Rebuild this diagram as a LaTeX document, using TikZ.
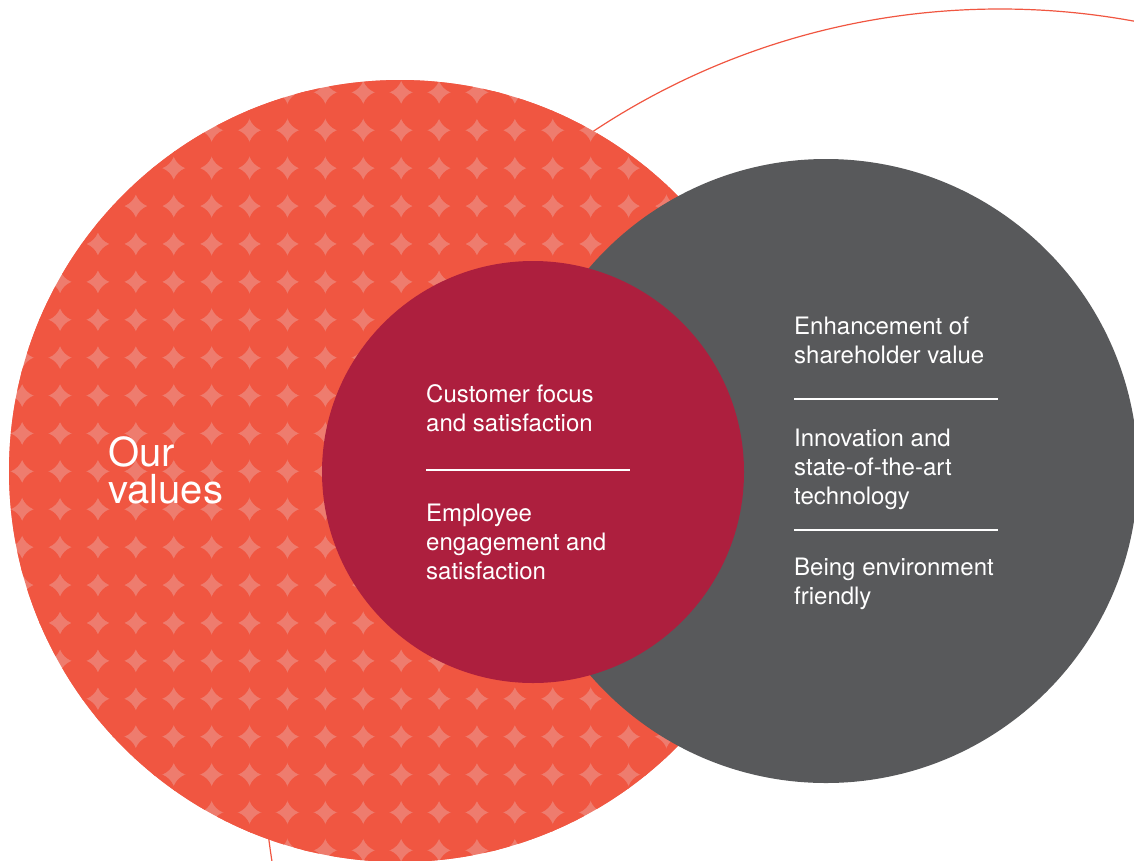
\documentclass[tikz,border=0pt]{standalone}
\usepackage{fontspec}
\setmainfont{TeX Gyre Heros}
\usepackage{tikz}
\usetikzlibrary{positioning,calc}
\definecolor{valred}{RGB}{240,86,65}
\definecolor{valstar}{RGB}{238,124,110}
\definecolor{valcrimson}{RGB}{173,31,62}
\definecolor{valgray}{RGB}{88,89,91}
\tikzstyle{ringline} = [draw=valred,line width=1.2pt]
\tikzstyle{bigtext} = [text=white,align=left,anchor=base west,inner sep=0pt,font=\fontsize{40}{37}\selectfont]
\tikzstyle{valtext} = [text=white,align=left,anchor=base west,inner sep=0pt,font=\fontsize{24}{29}\selectfont]
\tikzstyle{rule} = [draw=white,line width=1.4pt]

\begin{document}
\begin{tikzpicture}[x=1pt,y=-1pt]
    \useasboundingbox (0,0) rectangle (1134,860);
    % thin outer ring
    \draw[ringline] (1000,746) circle (737pt);
    % red circle with star pattern
    \fill[valstar] (400,471) circle (391pt);
    \begin{scope}
      \clip (400,471) circle (391pt);
      \foreach \i in {-2,...,19}
        \foreach \j in {-14,...,7}
          \fill[valred] ({79+37.9*\i},{604+37.9*\j}) circle (20.3pt);
    \end{scope}
    % gray and crimson circles
    \fill[valgray] (826,471) circle (312pt);
    \fill[valcrimson] (533,472) circle (211pt);
    % texts (anchored on the baseline of the last line)
    \node[bigtext] (title) at (108,503) {Our\\values};
    \node[valtext] (cust) at (426,431) {Customer focus\\and satisfaction};
    \node[valtext] (empl) at (426,579) {Employee\\engagement and\\satisfaction};
    \node[valtext] (share) at (794,363) {Enhancement of\\shareholder value};
    \node[valtext] (innov) at (794,504) {Innovation and\\state-of-the-art\\technology};
    \node[valtext] (envir) at (794,604) {Being environment\\friendly};
    % separators
    \coordinate (r1a) at (426,470);
    \coordinate (r1b) at (630,470);
    \coordinate (r2a) at (794,399);
    \coordinate (r2b) at (998,399);
    \coordinate (r3a) at (794,530);
    \coordinate (r3b) at (998,530);
    \draw[rule] (r1a) -- (r1b);
    \draw[rule] (r2a) -- (r2b);
    \draw[rule] (r3a) -- (r3b);
\end{tikzpicture}
\end{document}
